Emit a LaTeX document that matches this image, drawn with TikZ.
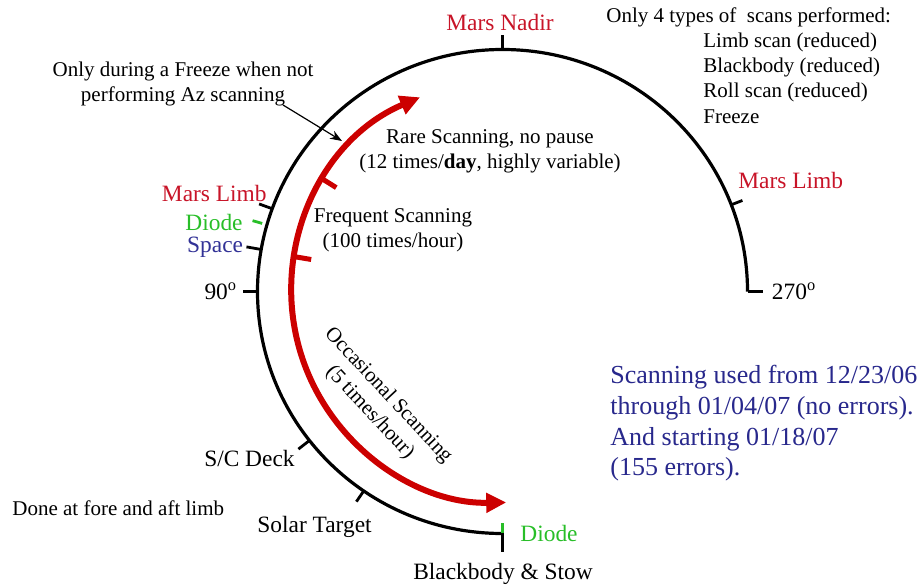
\documentclass[tikz,border=0pt]{standalone}
\usepackage{fontspec}
\setmainfont{Liberation Serif}
\usetikzlibrary{positioning,arrows.meta}
\definecolor{marsred}{RGB}{200,20,40}
\definecolor{scanred}{RGB}{204,0,0}
\definecolor{diodegreen}{RGB}{40,190,40}
\definecolor{spaceblue}{RGB}{50,50,150}
\definecolor{noteblue}{RGB}{40,40,140}

\begin{document}
\begin{tikzpicture}[x=0.5pt, y=0.5pt,
  txt/.style={font=\fontsize{10.5}{12.5}\selectfont, inner sep=0pt},
  lbl/.style={font=\fontsize{11.7}{14}\selectfont, inner sep=0pt},
  tick/.style={line width=1.4pt}]
\useasboundingbox (0,0) rectangle (920,585);

% Centre of the scan circle
\coordinate (c) at (502.5, 293.5);

% Scan range
\draw [line width=1.6pt] (c) ++(0:245 and 242) arc [start angle=0, end angle=270, x radius=245, y radius=242];

% Ticks
\draw [tick] (c) ++(90:245 and 242) -- ++(90:14) coordinate (tnadir);
\draw [tick] (c) ++(21:245 and 242) -- ++(21:12) coordinate (tlimbr);
\draw [tick] (c) ++(0:245 and 242) -- ++(0:15) coordinate (t270);
\draw [tick] (c) ++(160:245 and 242) -- ++(160:14) coordinate (tlimbl);
\draw [tick, diodegreen] (c) ++(164:250 and 247) -- ++(164:10) coordinate (tdiode);
\draw [tick] (c) ++(170:245 and 242) -- ++(170:15) coordinate (tspace);
\draw [tick] (c) ++(180:245 and 242) -- ++(180:15) coordinate (t90);
\draw [tick] (c) ++(218:245 and 242) -- ++(218:14) coordinate (tdeck);
\draw [tick] (c) ++(235.5:245 and 242) -- ++(235.5:13) coordinate (tsolar);
\draw [tick, diodegreen] (c) ++(270:244) -- ++(90:13) coordinate (tdiodeb);
\draw [tick] (c) ++(270:241) -- ++(270:19) coordinate (tstow);

% Position labels
\node (nadir)  [lbl, text=marsred] at (500.0, 563.0) {Mars Nadir};
\node (limbr)  [lbl, text=marsred, anchor=west] at (738.0, 405.0) {Mars Limb};
\node (deg270) [lbl, right = 4.5pt of t270] {270\textsuperscript{o}};
\node (limbl)  [lbl, text=marsred, anchor=east] at (267.0, 392.0) {Mars Limb};
\node (diodel) [lbl, text=diodegreen, anchor=east] at (243.0, 363.0) {Diode};
\node (space)  [lbl, text=spaceblue, left = 1.5pt of tspace] {Space};
\node (deg90)  [lbl, left = 2.5pt of t90] {90\textsuperscript{o}};
\node (deck)   [lbl, anchor=east] at (295.0, 127.0) {S/C Deck};
\node (solar)  [lbl, anchor=west] at (257.0,  58.0) {Solar Target};
\node (diodeb) [lbl, text=diodegreen, anchor=west] at (520.0, 52.0) {Diode};
\node (stow)   [lbl] at (503.0, 11.0) {Blackbody \& Stow};

% Scan types
\node (types)      [txt, anchor=west] at (606.0, 568.0) {Only 4 types of\ \ scans performed:};
\node (limbscan)   [txt, anchor=west] at (703.0, 543.0) {Limb scan (reduced)};
\node (bbscan)     [txt, anchor=west] at (703.0, 518.0) {Blackbody (reduced)};
\node (rollscan)   [txt, anchor=west] at (703.0, 493.0) {Roll scan (reduced)};
\node (freezescan) [txt, anchor=west] at (703.0, 468.0) {Freeze};

% Notes
\node (freeze) [txt, align=center] at (183.0, 501.0) {Only during a Freeze when not\\performing Az scanning};
\node (done)   [txt, anchor=west] at ( 12.0,  77.0) {Done at fore and aft limb};
\node (usage)  [font=\fontsize{13}{15.3}\selectfont, text=noteblue, align=left, anchor=west, inner sep=0pt] at (610.0, 161.5)
  {Scanning used from 12/23/06\\through 01/04/07 (no errors).\\And starting 01/18/07\\(155 errors).};

\coordinate (frzA) at (283.0, 480.0);
\coordinate (frzB) at (342.0, 444.0);
\draw [-{Stealth[length=6pt, width=4.5pt]}, line width=0.6pt] (frzA) -- (frzB);

% Scanning rates
\draw [scanred, line width=3pt, >={Triangle[length=10pt, width=9.5pt]}, <->] (c) ++(113:211) arc [start angle=113, end angle=271, radius=211];
\draw [scanred, line width=2.5pt] (c) ++(148:212) -- ++(328:16);
\draw [scanred, line width=2.5pt] (c) ++(170.5:212) -- ++(350.5:18);

\node (rare)     [txt, align=center] at (490.0, 434.0) {Rare Scanning, no pause\\(12 times/\textbf{day}, highly variable)};
\node (frequent) [txt, align=center] at (393.0, 355.0) {Frequent Scanning\\(100 times/hour)};
\node (occasion) [txt, align=center, rotate=-47] at (379.0, 181.0) {Occasional Scanning\\(5 times/hour)};

\end{tikzpicture}
\end{document}
